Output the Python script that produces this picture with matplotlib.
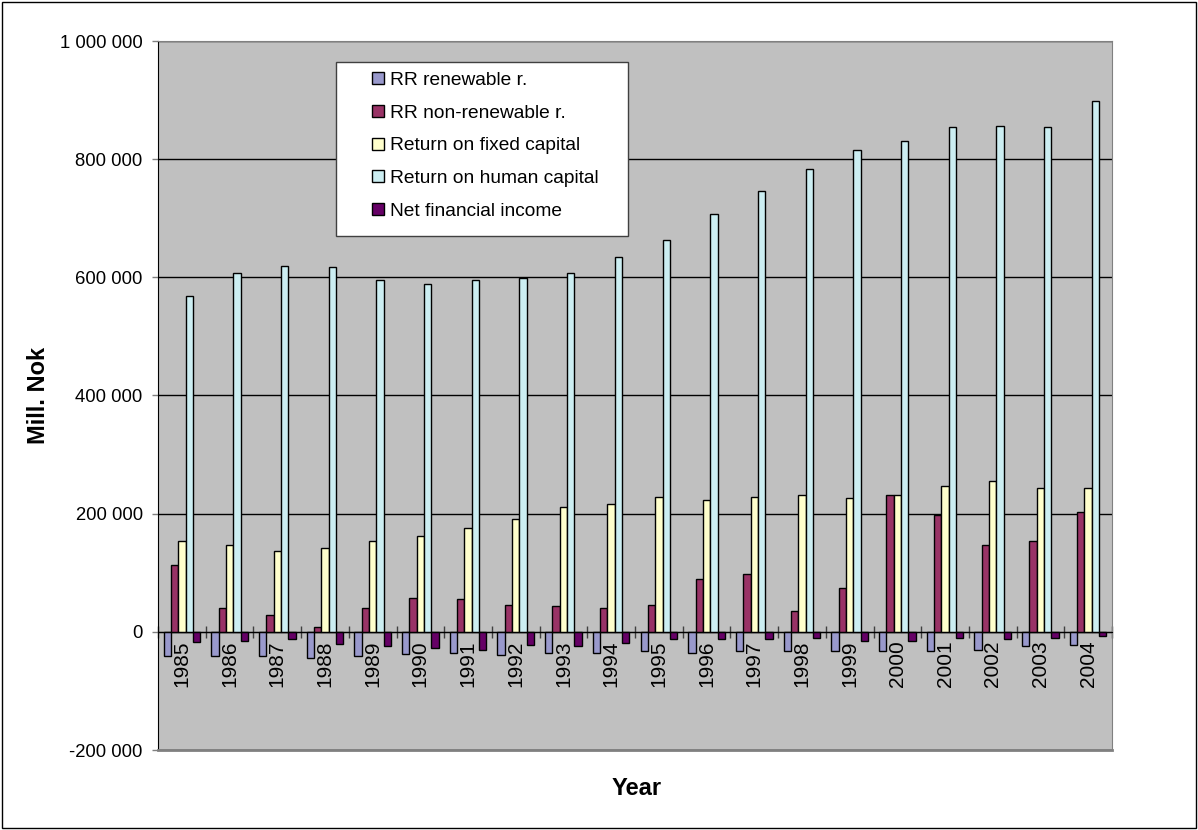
import matplotlib
matplotlib.use("Agg")
import matplotlib.pyplot as plt
import numpy as np
from matplotlib.ticker import FuncFormatter, FixedLocator
from matplotlib.patches import Rectangle

plt.rcParams['font.family'] = ['Liberation Sans', 'DejaVu Sans']

years = [1985, 1986, 1987, 1988, 1989, 1990, 1991, 1992, 1993, 1994,
         1995, 1996, 1997, 1998, 1999, 2000, 2001, 2002, 2003, 2004]

rr_renewable = [-41000, -41000, -41000, -43500, -41000, -38000, -36000, -39000, -36000, -36000,
                -33000, -36000, -33000, -33000, -33000, -33000, -33000, -30000, -24000, -21500]
rr_nonrenewable = [113000, 40000, 28500, 8000, 40000, 57500, 55000, 46000, 43000, 40000,
                   45000, 89000, 98500, 35000, 74500, 231000, 197000, 147000, 153000, 202000]
fixed_capital = [153000, 147000, 136000, 142000, 153000, 162000, 176000, 191000, 211000, 217000,
                 229000, 223000, 229000, 231000, 226000, 231000, 246000, 255000, 243000, 243000]
human_capital = [569000, 607000, 620000, 617000, 596000, 588000, 596000, 599000, 608000, 634000,
                 664000, 707000, 746000, 784000, 816000, 831000, 854000, 856000, 854000, 898000]
net_financial = [-18000, -14700, -12000, -21000, -24000, -27000, -30500, -21500, -24000, -18600,
                 -12400, -12400, -12400, -9600, -15800, -15000, -9600, -12400, -9600, -6800]

series = [rr_renewable, rr_nonrenewable, fixed_capital, human_capital, net_financial]
names = ['RR renewable r.', 'RR non-renewable r.', 'Return on fixed capital',
         'Return on human capital', 'Net financial income']
colors = ['#9999CC', '#993366', '#FFFFCC', '#CCEEF2', '#660066']

W, H = 1198, 830
fig = plt.figure(figsize=(W/100, H/100), dpi=100)
ax = fig.add_axes([158/W, 1-750/H, (1112-158)/W, (750-41)/H])
ax.set_facecolor('#C0C0C0')

x = np.arange(len(years))
w = 1/6.5
bars = []
for i, (vals, c) in enumerate(zip(series, colors)):
    b = ax.bar(x + (i-2)*w, vals, w, color=c, edgecolor='black', linewidth=1.0, zorder=3)
    bars.append(b)

ax.set_xlim(-0.5, len(years)-0.5)
ax.set_ylim(-200000, 1000000)
ax.set_yticks(np.arange(-200000, 1000001, 200000))
ax.yaxis.set_major_formatter(FuncFormatter(lambda v, p: f"{int(v):,}".replace(',', ' ')))
ax.grid(axis='y', color='black', linewidth=1.0, zorder=1)
ax.tick_params(axis='y', labelsize=13.3, length=4, width=1, color='#808080', pad=7)

# x axis at zero: ticks between categories, year labels under each group
ax.spines['bottom'].set_position(('data', 0))
ax.spines['bottom'].set_zorder(4)
ax.xaxis.set_major_locator(FixedLocator(np.arange(-0.5, len(years), 1.0)))
ax.xaxis.set_major_formatter(FuncFormatter(lambda v, p: ''))
ax.set_xticks(x, [str(y) for y in years], minor=True)
ax.tick_params(axis='x', which='major', direction='inout', length=8, width=1, color='#404040')
ax.tick_params(axis='x', which='minor', length=0, labelsize=15, labelrotation=90, pad=6)
ax.axhline(-200000, color='#808080', linewidth=2, zorder=5, clip_on=False)
ax.spines['left'].set_color('black')
ax.spines['top'].set_color('#808080')
ax.spines['right'].set_color('#808080')

ax.set_ylabel('Mill. Nok', fontsize=17, fontweight='bold')
ax.yaxis.set_label_coords((50-158)/954, 0.5)
fig.text(637/W, 1-788/H, 'Year', fontsize=17, fontweight='bold', ha='center', va='center')

# legend box drawn separately so the padding matches
fig.patches.append(Rectangle((336/W, 1-236/H), (628-336)/W, (236-62)/H, transform=fig.transFigure,
                             facecolor='white', edgecolor='#404040', linewidth=1.0, zorder=2))
leg = fig.legend([b[0] for b in bars], names, loc='upper left',
                 bbox_to_anchor=(372/W, 1-72/H), fontsize=13.8, frameon=False,
                 handlelength=0.6, handleheight=0.6, handletextpad=0.35,
                 labelspacing=0.82, borderpad=0, borderaxespad=0)
leg.set_zorder(6)

fig.patches.append(Rectangle((2/W, 2/H), (W-4)/W, (H-4)/H, transform=fig.transFigure,
                             fill=False, edgecolor='black', linewidth=1.0))

fig.savefig('out.png', dpi=100)
